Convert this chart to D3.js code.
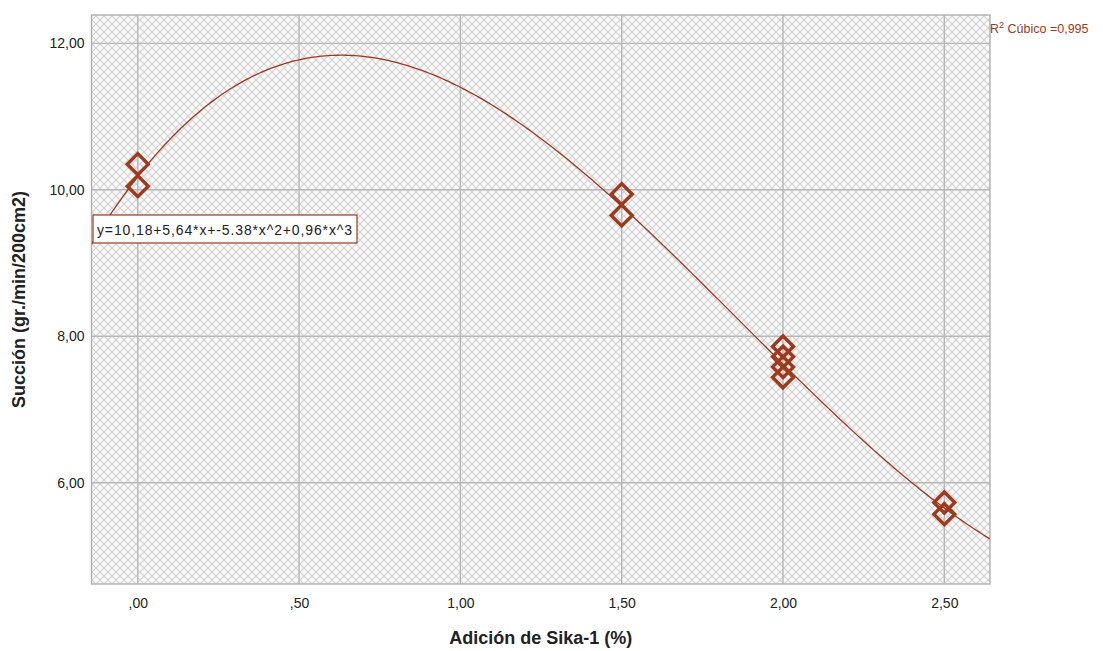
<!DOCTYPE html>
<html><head><meta charset="utf-8">
<script src="https://cdn.jsdelivr.net/npm/d3@7"></script>
<style>body{margin:0;background:#fff;font-family:Arial,"Liberation Sans",sans-serif}</style>
</head><body><svg id="c" width="1103" height="651"></svg>
<script>
const xTicks = [0, 0.5, 1.0, 1.5, 2.0, 2.5];
const xTickLabels = [",00", ",50", "1,00", "1,50", "2,00", "2,50"];
const yTicks = [6, 8, 10, 12];
const yTickLabels = ["6,00", "8,00", "10,00", "12,00"];
const pointX = [0, 0, 1.5, 1.5, 2.0, 2.0, 2.0, 2.0, 2.5, 2.5];
const pointY = [10.35, 10.05, 9.94, 9.65, 7.86, 7.72, 7.58, 7.44, 5.73, 5.57];
const coefs = [10.18, 5.64, -5.38, 0.96];
const eqText = "y=10,18+5,64*x+-5.38*x^2+0,96*x^3";
const r2Text = "Cúbico =0,995";
const xTitle = "Adición de Sika-1 (%)";
const yTitle = "Succión (gr./min/200cm2)";

const svg = d3.select("#c");
const L = 91.5, R = 990, T = 15, B = 584;
const x = d3.scaleLinear().domain([-0.1434, 2.6416]).range([L, R]);
const y = d3.scaleLinear().domain([4.617, 12.387]).range([B, T]);
const col = "#a0391c";

const defs = svg.append("defs");
const pat = defs.append("pattern").attr("id","hatch").attr("patternUnits","userSpaceOnUse")
  .attr("width",8).attr("height",8);
pat.append("rect").attr("width",8).attr("height",8).attr("fill","#f8f8f8");
pat.append("path").attr("d","M0,0 L8,8 M8,0 L0,8").attr("stroke","#d2d2d2").attr("stroke-width",1.1);
defs.append("clipPath").attr("id","clip").append("rect").attr("x",L).attr("y",T).attr("width",R-L).attr("height",B-T);

svg.append("rect").attr("x",L).attr("y",T).attr("width",R-L).attr("height",B-T).attr("fill","url(#hatch)");

// grid
svg.append("g").selectAll("line").data(xTicks).join("line")
  .attr("x1",d=>x(d)).attr("x2",d=>x(d)).attr("y1",T).attr("y2",B)
  .attr("stroke","#b8b8b8").attr("stroke-width",1.4);
svg.append("g").selectAll("line").data(yTicks).join("line")
  .attr("x1",L).attr("x2",R).attr("y1",d=>y(d)).attr("y2",d=>y(d))
  .attr("stroke","#b8b8b8").attr("stroke-width",1.4);
svg.append("rect").attr("x",L).attr("y",T).attr("width",R-L).attr("height",B-T)
  .attr("fill","none").attr("stroke","#b0b0b0").attr("stroke-width",1.4);

// axes
const xAxis = d3.axisBottom(x).tickValues(xTicks).tickSize(0).tickPadding(14)
  .tickFormat((d,i)=>xTickLabels[i]);
const gx = svg.append("g").attr("transform",`translate(0,${B})`).call(xAxis);
gx.select(".domain").remove();
gx.selectAll("text").attr("font-size",14).attr("fill","#222").attr("font-family","Arial,'Liberation Sans',sans-serif");
const yAxis = d3.axisLeft(y).tickValues(yTicks).tickSize(0).tickPadding(7)
  .tickFormat((d,i)=>yTickLabels[i]);
const gy = svg.append("g").attr("transform",`translate(${L},0)`).call(yAxis);
gy.select(".domain").remove();
gy.selectAll("text").attr("font-size",14).attr("fill","#222").attr("font-family","Arial,'Liberation Sans',sans-serif");

// titles
svg.append("text").attr("x",(L+R)/2).attr("y",644).attr("text-anchor","middle")
  .attr("font-size",18).attr("font-weight","bold").attr("fill","#222").text(xTitle);
svg.append("text").attr("transform",`translate(25,${(T+B)/2}) rotate(-90)`).attr("text-anchor","middle")
  .attr("font-size",18).attr("font-weight","bold").attr("fill","#222").text(yTitle);

// fitted curve
const xs = d3.range(0,301).map(i=>x.domain()[0]+(x.domain()[1]-x.domain()[0])*i/300);
const curve = d3.line().x(d=>x(d)).y(d=>y(coefs[0]+coefs[1]*d+coefs[2]*d*d+coefs[3]*d*d*d));
svg.append("path").datum(xs).attr("d",curve).attr("fill","none").attr("stroke",col)
  .attr("stroke-width",1.3).attr("clip-path","url(#clip)");

// points
const sym = d3.symbol().type(d3.symbolSquare).size(220);
svg.append("g").selectAll("path").data(pointX.map((d,i)=>[d,pointY[i]])).join("path")
  .attr("d",sym).attr("transform",d=>`translate(${x(d[0])},${y(d[1])}) rotate(45)`)
  .attr("fill","none").attr("stroke",col).attr("stroke-width",3.4);

// equation box
const eg = svg.append("g");
eg.append("rect").attr("x",93).attr("y",215).attr("width",264).attr("height",28)
  .attr("fill","#fff").attr("stroke",col).attr("stroke-width",1.2);
eg.append("text").attr("x",97).attr("y",235).attr("font-size",14).attr("fill","#222")
  .attr("textLength",255).attr("lengthAdjust","spacing").text(eqText);

// R2 label
const rt = svg.append("text").attr("x",990).attr("y",33).attr("font-size",12.5).attr("fill",col);
rt.append("tspan").text("R");
rt.append("tspan").attr("dy",-5).attr("font-size",9).text("2");
rt.append("tspan").attr("dy",5).text(" " + r2Text);
</script></body></html>
